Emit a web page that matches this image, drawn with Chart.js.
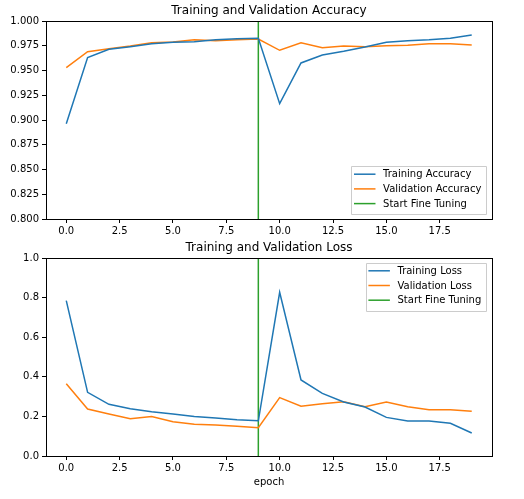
<!DOCTYPE html>
<html><head><meta charset="utf-8">
<script src="https://cdn.jsdelivr.net/npm/chart.js@4/dist/chart.umd.min.js"></script>
<style>
html,body{margin:0;padding:0;background:#fff;}
#wrap{position:relative;width:524px;height:499px;}
.c{position:absolute;left:0;}
</style></head>
<body>
<div id="wrap">
<div class="c" style="top:0;width:524px;height:240px"><canvas id="c1"></canvas></div>
<div class="c" style="top:240px;width:524px;height:259px"><canvas id="c2"></canvas></div>
</div>
<script>
const epochs = [0,1,2,3,4,5,6,7,8,9,10,11,12,13,14,15,16,17,18,19];
const trainAcc = [0.8963,0.963,0.9714,0.974,0.977,0.9785,0.979,0.981,0.982,0.9825,0.9165,0.9576,0.9657,0.9694,0.9737,0.9785,0.980,0.981,0.9825,0.9859];
const valAcc = [0.9529,0.969,0.972,0.9747,0.978,0.9788,0.981,0.980,0.981,0.9818,0.9704,0.978,0.973,0.9747,0.974,0.975,0.9754,0.977,0.977,0.9758];
const trainLoss = [0.7845,0.3215,0.261,0.239,0.224,0.212,0.200,0.192,0.183,0.178,0.8266,0.3838,0.3165,0.273,0.2475,0.195,0.177,0.177,0.165,0.116];
const valLoss = [0.365,0.237,0.212,0.1886,0.200,0.173,0.160,0.1566,0.150,0.143,0.2946,0.251,0.264,0.274,0.249,0.273,0.249,0.234,0.234,0.2256];
const fineTuneEpoch = 9;
const xTicks = [0,2.5,5,7.5,10,12.5,15,17.5];
const accTicks = [0.800,0.825,0.850,0.875,0.900,0.925,0.950,0.975,1.000];
const lossTicks = [0.0,0.2,0.4,0.6,0.8,1.0];

const FONT = "'DejaVu Sans', sans-serif";
const BLUE='#1f77b4', ORANGE='#ff7f0e', GREEN='#2ca02c';

function pts(arr){ return arr.map((v,i)=>({x:epochs[i], y:v})); }

const framePlugin = {
  id:'frame',
  afterDraw(chart, args, opts){
    const ctx = chart.ctx, a = chart.chartArea;
    ctx.save();
    ctx.strokeStyle = '#000'; ctx.lineWidth = 1;
    ctx.strokeRect(Math.round(a.left)+0.5, Math.round(a.top)+0.5, Math.round(a.right-a.left), Math.round(a.bottom-a.top));
    // title
    ctx.fillStyle = '#000';
    ctx.font = '12px ' + FONT;
    ctx.textAlign = 'center'; ctx.textBaseline = 'middle';
    ctx.fillText(opts.title, (a.left+a.right)/2, opts.titleY);
    // legend
    const L = opts.legend;
    ctx.font = '10px ' + FONT;
    const ds = chart.data.datasets;
    let maxW = 0;
    ds.forEach(d=>{ maxW = Math.max(maxW, ctx.measureText(d.label).width); });
    const boxW = 31.6 + maxW + 4.7;
    const rowH = 14.7;
    const boxH = rowH*ds.length + 3.5;
    const bx = a.right - 6 - boxW;
    const by = L.pos === 'lr' ? a.bottom - 5 - boxH : a.top + 5;
    ctx.fillStyle = 'rgba(255,255,255,0.8)';
    ctx.strokeStyle = '#cccccc';
    ctx.lineWidth = 1;
    ctx.beginPath();
    ctx.rect(Math.round(bx)+0.5, Math.round(by)+0.5, Math.round(boxW), Math.round(boxH));
    ctx.fill(); ctx.stroke();
    ds.forEach((d,i)=>{
      const y = by + 7.8 + i*rowH;
      ctx.strokeStyle = d.borderColor; ctx.lineWidth = 1.5;
      ctx.beginPath(); ctx.moveTo(bx+2.5, y); ctx.lineTo(bx+24, y); ctx.stroke();
      ctx.fillStyle = '#000'; ctx.textAlign='left'; ctx.textBaseline='middle';
      ctx.fillText(d.label, bx+31.6, y+0.5);
    });
    ctx.restore();
  }
};

function makeChart(id, opts){
  const ds = [
    {label:opts.names[0], data:pts(opts.s1), borderColor:BLUE},
    {label:opts.names[1], data:pts(opts.s2), borderColor:ORANGE},
    {label:'Start Fine Tuning', data:[{x:fineTuneEpoch,y:opts.yMin},{x:fineTuneEpoch,y:opts.yMax}], borderColor:GREEN}
  ].map(d=>Object.assign(d,{borderWidth:1.5, pointRadius:0, fill:false, tension:0, backgroundColor:d.borderColor}));
  return new Chart(document.getElementById(id), {
    type:'line',
    data:{datasets:ds},
    plugins:[framePlugin],
    options:{
      responsive:true, maintainAspectRatio:false, animation:false,
      layout:{padding:{left:0, right:32, top:opts.top, bottom:opts.padBottom}},
      plugins:{legend:{display:false}, tooltip:{enabled:false}, title:{display:false},
        frame:{title:opts.title, titleY:opts.titleY, legend:{pos:opts.legendPos}}},
      scales:{
        x:{type:'linear', min:-0.95, max:19.95,
          afterBuildTicks:(s)=>{ s.ticks = xTicks.map(v=>({value:v})); },
          afterFit:(s)=>{ s.height = opts.xH; },
          ticks:{color:'#000', font:{family:FONT,size:10}, padding:2, maxRotation:0, autoSkip:false,
            callback:(v)=>Number(v).toFixed(1)},
          grid:{drawOnChartArea:false, drawTicks:true, tickLength:4, color:'#000'},
          border:{display:true, color:'#000'},
          title:{display:!!opts.xTitle, text:opts.xTitle||'', color:'#000', font:{family:FONT,size:10}, padding:{top:2,bottom:0}}
        },
        y:{type:'linear', min:opts.yMin, max:opts.yMax,
          afterBuildTicks:(s)=>{ s.ticks = opts.yTicks.map(v=>({value:v})); },
          afterFit:(s)=>{ s.width = 46; },
          ticks:{color:'#000', font:{family:FONT,size:10}, padding:3, autoSkip:false,
            callback:(v)=>Number(v).toFixed(opts.yDec)},
          grid:{drawOnChartArea:false, drawTicks:true, tickLength:4, color:'#000'},
          border:{display:true, color:'#000'}
        }
      }
    }
  });
}

makeChart('c1', {names:['Training Accuracy','Validation Accuracy'], s1:trainAcc, s2:valAcc,
  yMin:0.8, yMax:1.0, yTicks:accTicks, yDec:3, title:'Training and Validation Accuracy', titleY:11,
  legendPos:'lr', top:21, padBottom:0, xH:21});
makeChart('c2', {names:['Training Loss','Validation Loss'], s1:trainLoss, s2:valLoss,
  yMin:0, yMax:1.0, yTicks:lossTicks, yDec:1, title:'Training and Validation Loss', titleY:7.5,
  legendPos:'ur', top:18, padBottom:11, xH:32, xTitle:'epoch'});
</script>
</body></html>
